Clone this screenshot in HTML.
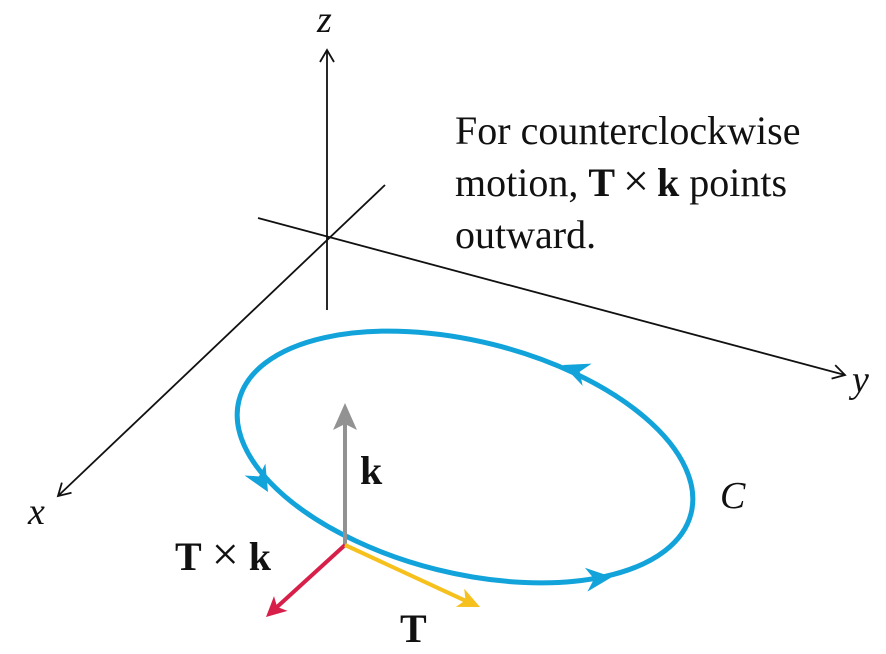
<!DOCTYPE html>
<html><head><meta charset="utf-8"><style>body{margin:0;background:#fff}svg{display:block}</style></head>
<body>
<svg width="886" height="654" viewBox="0 0 886 654" xmlns="http://www.w3.org/2000/svg">
<defs>
<marker id="ab" markerWidth="20" markerHeight="20" refX="14" refY="8" orient="auto" markerUnits="userSpaceOnUse"><path d="M2,1 L14,8 L2,15" fill="none" stroke="#111" stroke-width="1.8"/></marker>
</defs>
<g stroke="#111" stroke-width="1.8" fill="none">
<line x1="327" y1="310" x2="327" y2="50" marker-end="url(#ab)"/>
<line x1="385" y1="185" x2="58" y2="496" marker-end="url(#ab)"/>
<line x1="258" y1="218" x2="845" y2="375" marker-end="url(#ab)"/>
</g>
<g font-family="Liberation Serif, serif" font-style="italic" font-size="38" fill="#111">
<text x="317" y="32">z</text>
<text x="28" y="524">x</text>
<text x="852" y="392">y</text>
<text x="720" y="508">C</text>
</g>
<g font-family="Liberation Serif, serif" font-size="40" fill="#111">
<text x="455" y="144">For counterclockwise</text>
<text x="455" y="196">motion, <tspan font-weight="bold">T</tspan><tspan font-size="46" dx="8">×</tspan><tspan font-weight="bold" dx="8">k</tspan> points</text>
<text x="455" y="248">outward.</text>
</g>
<ellipse cx="465" cy="457" rx="233" ry="116" transform="rotate(14 465 457)" fill="none" stroke="#12a3da" stroke-width="5"/>
<g fill="#12a3da">
<path d="M0,0 L-26,-12 L-18,0 L-26,12 Z" transform="translate(268 492) rotate(60)"/>
<path d="M0,0 L-26,-12 L-18,0 L-26,12 Z" transform="translate(612 577) rotate(-6)"/>
<path d="M0,0 L-26,-12 L-18,0 L-26,12 Z" transform="translate(563 365) rotate(202)"/>
</g>
<line x1="345" y1="545" x2="345" y2="420" stroke="#929292" stroke-width="4"/>
<path d="M345,403 L357,430 L345,424 L333,430 Z" fill="#929292"/>
<line x1="345" y1="545" x2="277" y2="607" stroke="#d81f49" stroke-width="4"/>
<path d="M0,0 L-20,-10 L-15,0 L-20,10 Z" fill="#d81f49" transform="translate(266 617) rotate(137.6)"/>
<line x1="345" y1="545" x2="466" y2="601" stroke="#f6c11d" stroke-width="4"/>
<path d="M0,0 L-22,-10 L-16,0 L-22,10 Z" fill="#f6c11d" transform="translate(480 607) rotate(24.8)"/>
<g font-family="Liberation Serif, serif" font-weight="bold" font-size="40" fill="#111">
<text x="360" y="484">k</text>
<text x="400" y="642">T</text>
<text x="175" y="570">T<tspan font-weight="normal" font-size="48" dx="10">×</tspan><tspan dx="10">k</tspan></text>
</g>
</svg>
</body></html>
